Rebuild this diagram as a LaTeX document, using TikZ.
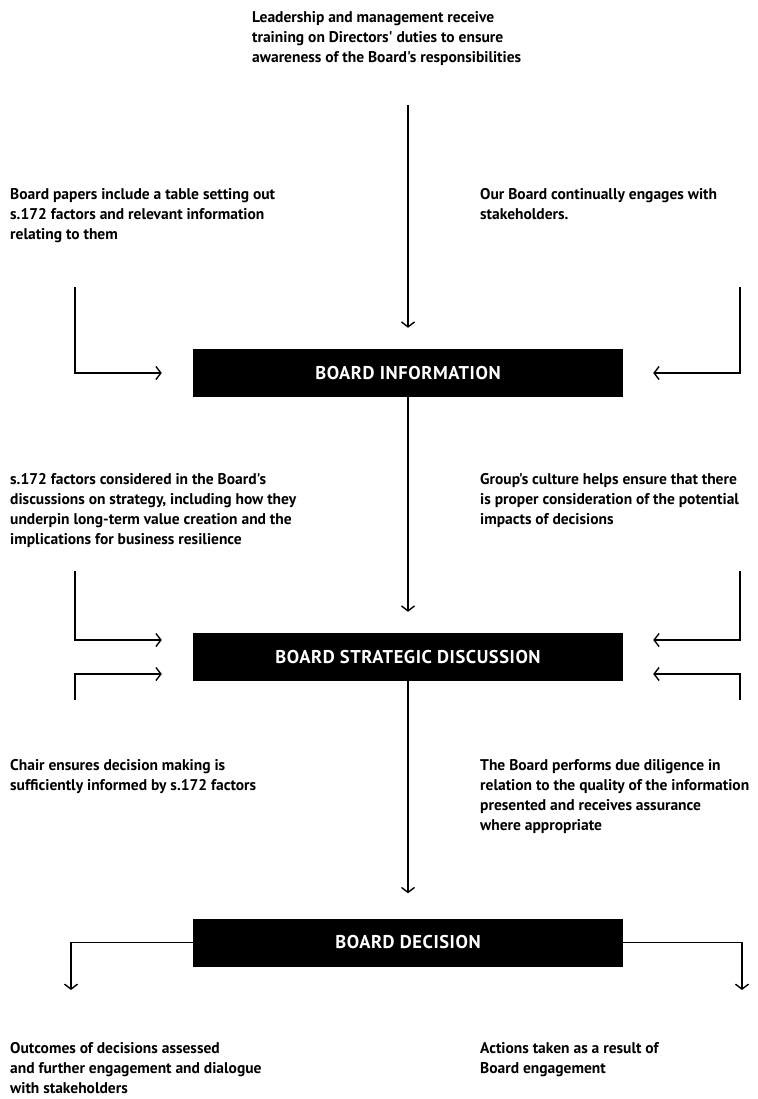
\documentclass[tikz,border=0pt]{standalone}
\usepackage{fontspec}
\setmainfont{PT Sans}
\newfontfamily\txtfont{PT Sans Bold}
\newfontfamily\headfont{PT Sans Bold}[LetterSpace=3]
\usetikzlibrary{arrows.meta}
\begin{document}
\begin{tikzpicture}[x=1pt,y=-1pt,
  txt/.style={anchor=base west, align=left, inner sep=0pt, font=\txtfont\fontsize{15.5}{20}\selectfont},
  boardbox/.style={fill=black, text=white, minimum width=430pt, minimum height=48pt, inner sep=0pt, font=\headfont\fontsize{18.5}{20}\selectfont},
  conn/.style={line width=1.4pt, -{Straight Barb[length=5pt,width=13pt,line width=1.4pt]}}]
\useasboundingbox (0,0) rectangle (757,1099);

% boxes
\node[boardbox] (b1) at (408,373) {BOARD INFORMATION};
\node[boardbox] (b2) at (408,657) {BOARD STRATEGIC DISCUSSION};
\node[boardbox] (b3) at (408,942.5) {BOARD DECISION};

% texts (anchor = baseline of the last line)
\node[txt] (t0) at (252,63) {Leadership and management receive\\training on Directors' duties to ensure\\awareness of the Board's responsibilities};
\node[txt] (tl1) at (10,240) {Board papers include a table setting out\\s.172 factors and relevant information\\relating to them};
\node[txt] (tr1) at (480,220) {Our Board continually engages with\\stakeholders.};
\node[txt] (tl2) at (10,544) {s.172 factors considered in the Board's\\discussions on strategy, including how they\\underpin long-term value creation and the\\implications for business resilience};
\node[txt] (tr2) at (480,524) {Group's culture helps ensure that there\\is proper consideration of the potential\\impacts of decisions};
\node[txt] (tl3) at (10,790) {Chair ensures decision making is\\sufficiently informed by s.172 factors};
\node[txt] (tr3) at (480,830) {The Board performs due diligence in\\relation to the quality of the information\\presented and receives assurance\\where appropriate};
\node[txt] (tl4) at (10,1093) {Outcomes of decisions assessed\\and further engagement and dialogue\\with stakeholders};
\node[txt] (tr4) at (480,1073) {Actions taken as a result of\\Board engagement};

% free ends
\coordinate (s0) at (408,105);
\coordinate (sl1) at (75,287);
\coordinate (sr1) at (740,287);
\coordinate (sl2a) at (75,571);
\coordinate (sr2a) at (740,571);
\coordinate (sl2b) at (75,700);
\coordinate (sr2b) at (740,700);
\coordinate (el3) at (71,990);
\coordinate (er3) at (742,990);

% connectors
\draw[conn] (s0) -- ([yshift=21pt]b1.north);
\draw[conn] (sl1) |- ([xshift=-31pt]b1.west);
\draw[conn] (sr1) |- ([xshift=30pt]b1.east);
\draw[conn] (b1.south) -- ([yshift=21pt]b2.north);
\draw[conn] (sl2a) |- ([xshift=-31pt,yshift=17pt]b2.west);
\draw[conn] (sl2b) |- ([xshift=-31pt,yshift=-17pt]b2.west);
\draw[conn] (sr2a) |- ([xshift=30pt,yshift=17pt]b2.east);
\draw[conn] (sr2b) |- ([xshift=30pt,yshift=-17pt]b2.east);
\draw[conn] (b2.south) -- ([yshift=25pt]b3.north);
\draw[conn] (b3.west) -| (el3);
\draw[conn] (b3.east) -| (er3);
\end{tikzpicture}
\end{document}
